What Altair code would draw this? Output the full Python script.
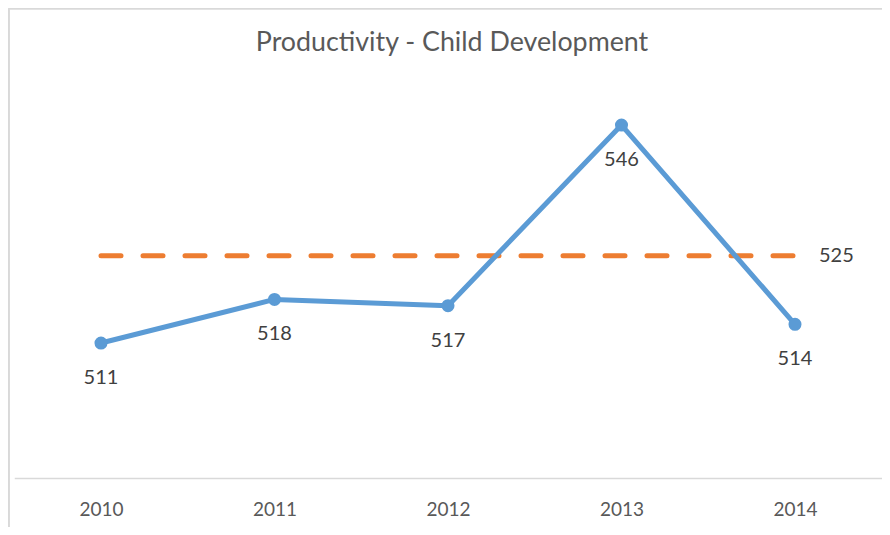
import altair as alt
import pandas as pd

title_text = "Productivity - Child Development"
years = ["2010", "2011", "2012", "2013", "2014"]
values = [511, 518, 517, 546, 514]
target_value = 525

df = pd.DataFrame({"year": years, "value": values})
tdf = pd.DataFrame({"year": years, "value": [target_value] * len(years)})
tlabel = pd.DataFrame({"year": [years[-1]], "value": [target_value]})
ttl = pd.DataFrame({"t": [title_text]})

FONT = "Lato"
x = alt.X("year:N", sort=years, title=None,
          scale=alt.Scale(paddingInner=0, paddingOuter=0.5),
          axis=alt.Axis(labelAngle=0, ticks=False, domainColor="#d9d9d9", domainWidth=1.5,
                        labelFontSize=19, labelColor="#595959", labelFont=FONT,
                        labelPadding=22, grid=False))
y = alt.Y("value:Q", scale=alt.Scale(domain=[489.33, 559.33], nice=False, zero=False), axis=None)

target = alt.Chart(tdf).mark_line(color="#ed7d31", strokeWidth=5, strokeDash=[20, 22],
                                  strokeCap="round").encode(x=x, y=y)
target_text = alt.Chart(tlabel).mark_text(align="left", baseline="middle", dx=24, fontSize=20,
                                          color="#404040", font=FONT).encode(
    x=x, y=y, text=alt.Text("value:Q"))
line = alt.Chart(df).mark_line(color="#5b9bd5", strokeWidth=5, strokeJoin="round").encode(x=x, y=y)
points = alt.Chart(df).mark_point(filled=True, size=170, color="#5b9bd5", opacity=1).encode(x=x, y=y)
labels = alt.Chart(df).mark_text(baseline="middle", dy=35, fontSize=20, color="#404040",
                                 font=FONT).encode(x=x, y=y, text=alt.Text("value:Q"))

title = alt.Chart(ttl).mark_text(fontSize=26.8, font=FONT, color="#595959", align="center",
                                 baseline="middle").encode(
    text="t:N", x=alt.value(437.75), y=alt.value(1))

border_left = alt.Chart(df).mark_rule(color="#d9d9d9", strokeWidth=1.5).encode(
    x=alt.value(-5.5), y=alt.value(-33.5), y2=alt.value(490))
border_top = alt.Chart(df).mark_rule(color="#d9d9d9", strokeWidth=1.5).encode(
    x=alt.value(-5.5), x2=alt.value(868), y=alt.value(-33.5))

chart = alt.layer(border_left, border_top, title, target, line, points, labels, target_text).properties(
    width=867.5, height=436,
    autosize=alt.AutoSizeParams(type="none"),
    padding={"left": 6.25, "top": 34, "right": 0.25, "bottom": 49},
).configure_view(stroke=None)

chart.save("out.html", embed_options={"renderer": "svg", "actions": False})
